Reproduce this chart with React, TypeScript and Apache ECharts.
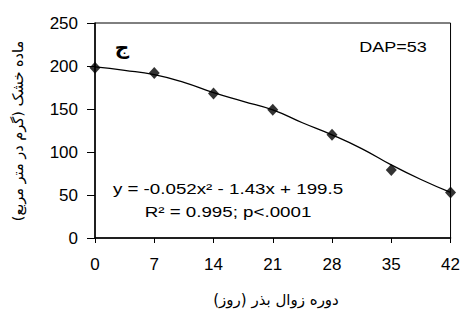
import React, { useEffect, useRef } from "react";
import * as echarts from "echarts";

const xTicks = [0, 7, 14, 21, 28, 35, 42];
const observed = [198, 192, 168, 149, 120, 79, 53];
const trendX = [0, 3.5, 7, 10.5, 14, 17.5, 21, 24.5, 28, 31.5, 35, 38.5, 42];
const trendY = [199, 195, 190, 181, 169, 159, 149, 134, 120, 104, 85, 68, 53];
const yTitle = "ماده خشک (گرم در متر مربع)";
const xTitle = "دوره زوال بذر (روز)";
const panelLabel = "ج";
const dapLabel = "DAP=53";
const eqLine1 = "y = -0.052x² - 1.43x + 199.5";
const eqLine2 = "R² = 0.995; p<.0001";

export default function App() {
  const ref = useRef<HTMLDivElement>(null);
  useEffect(() => {
    const chart = echarts.init(ref.current!, null, { renderer: "svg" });
    const font = "Arial, 'Liberation Sans', sans-serif";
    chart.setOption({
      animation: false,
      backgroundColor: "#fff",
      grid: {
        left: 95,
        right: 10,
        top: 23,
        bottom: 72,
        show: true,
        borderColor: "#000",
        borderWidth: 1,
      },
      xAxis: {
        type: "value",
        min: 0,
        max: 42,
        interval: 7,
        axisLine: { show: true, lineStyle: { color: "#000", width: 1.5 } },
        axisTick: { show: true, inside: false, length: 5, lineStyle: { color: "#000" } },
        splitLine: { show: false },
        axisLabel: { color: "#000", fontSize: 17, fontFamily: font, margin: 18 },
      },
      yAxis: {
        type: "value",
        min: 0,
        max: 250,
        interval: 50,
        axisLine: { show: true, lineStyle: { color: "#000", width: 1.5 } },
        axisTick: { show: true, inside: false, length: 8, lineStyle: { color: "#000" } },
        splitLine: { show: false },
        axisLabel: { color: "#000", fontSize: 17, fontFamily: font, margin: 17 },
      },
      series: [
        {
          type: "line",
          data: trendX.map((x, i) => [x, trendY[i]]),
          smooth: true,
          showSymbol: false,
          lineStyle: { color: "#000", width: 1.3 },
          z: 2,
        },
        {
          type: "scatter",
          data: xTicks.map((x, i) => [x, observed[i]]),
          symbol: "diamond",
          symbolSize: [11, 12],
          itemStyle: { color: "#000" },
          z: 3,
        },
      ],
      graphic: [
        {
          type: "text",
          x: 122,
          y: 47,
          style: {
            text: panelLabel,
            font: "bold 20px 'DejaVu Sans'",
            fill: "#000",
            align: "center",
            verticalAlign: "middle",
          },
        },
        {
          type: "text",
          x: 393,
          y: 47,
          scaleX: 1.2,
          style: {
            text: dapLabel,
            font: `15px ${font}`,
            fill: "#000",
            align: "center",
            verticalAlign: "middle",
          },
        },
        {
          type: "text",
          x: 228,
          y: 189,
          scaleX: 1.25,
          style: {
            text: eqLine1,
            font: `15px ${font}`,
            fill: "#000",
            align: "center",
            verticalAlign: "middle",
          },
        },
        {
          type: "text",
          x: 228,
          y: 212,
          scaleX: 1.25,
          style: {
            text: eqLine2,
            font: `15px ${font}`,
            fill: "#000",
            align: "center",
            verticalAlign: "middle",
          },
        },
        {
          type: "text",
          x: 276,
          y: 300,
          style: {
            text: xTitle,
            font: "15px 'DejaVu Sans'",
            fill: "#000",
            align: "center",
            verticalAlign: "middle",
          },
        },
        {
          type: "text",
          x: 18,
          y: 131,
          rotation: Math.PI / 2,
          style: {
            text: yTitle,
            font: "14.5px 'DejaVu Sans'",
            fill: "#000",
            align: "center",
            verticalAlign: "middle",
          },
        },
      ],
    });
    return () => chart.dispose();
  }, []);
  return <div ref={ref} style={{ width: 463, height: 310, position: "absolute", left: 0, top: 0 }} />;
}
